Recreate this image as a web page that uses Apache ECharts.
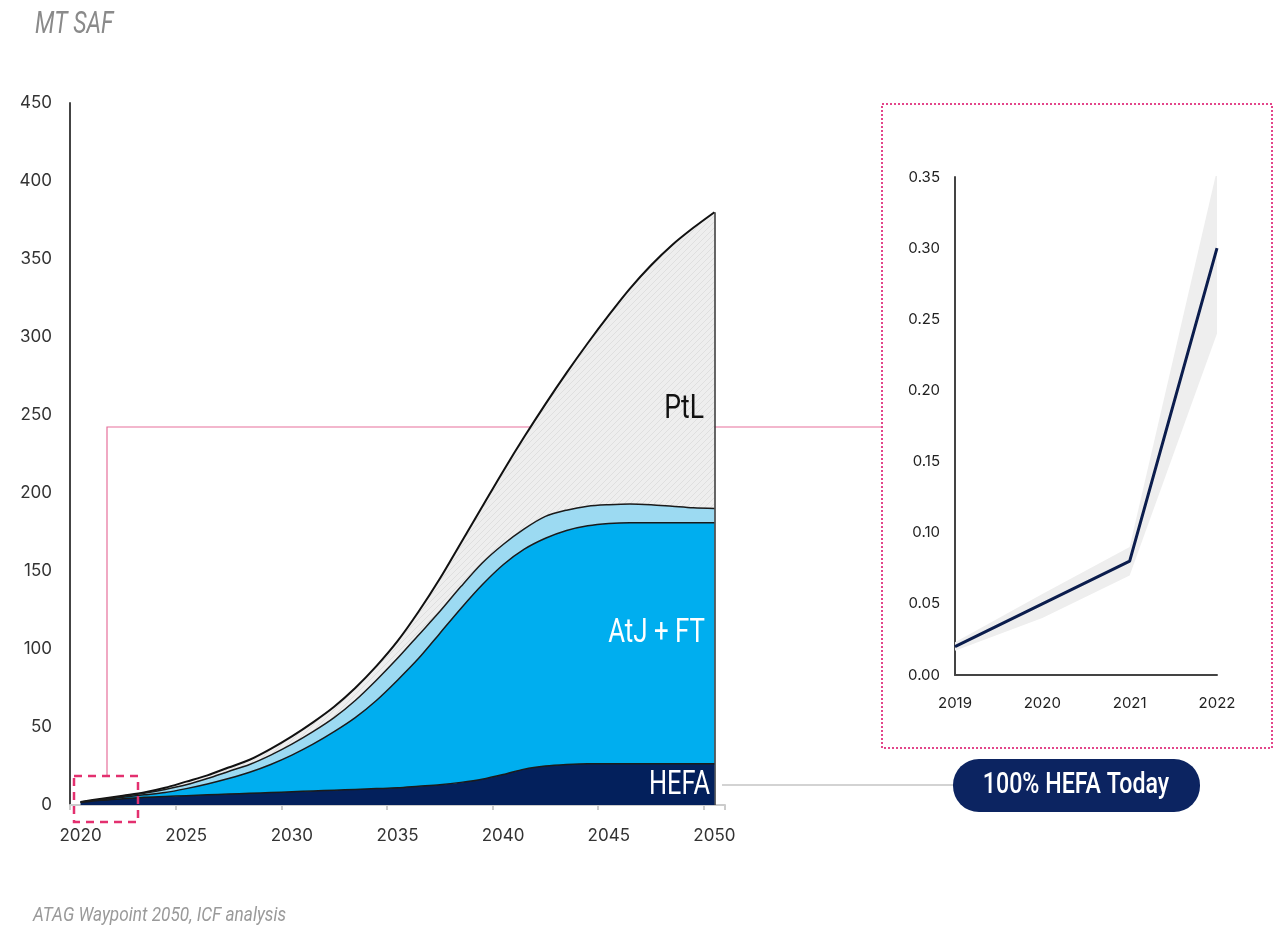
<!DOCTYPE html>
<html><head><meta charset="utf-8">
<script src="https://cdn.jsdelivr.net/npm/echarts@6/dist/echarts.min.js"></script>
<style>html,body{margin:0;padding:0;background:#fff}#c{width:1279px;height:929px}</style>
</head><body><div id="c"></div>
<script>
// ---- Data ----
const years = ['2020','2021','2022','2023','2024','2025','2026','2027','2028','2029','2030','2031','2032','2033','2034','2035','2036','2037','2038','2039','2040','2041','2042','2043','2044','2045','2046','2047','2048','2049','2050'];
const hefa  = [1.6,3,4,5,5.5,6,6.5,7,7.5,8,8.5,9,9.5,10,10.5,11,12,13,14.5,16.5,19.5,23,25,26,26.5,26.5,26.5,26.5,26.5,26.5,26.5];
const atjFt = [0.2,0.4,1,1.5,2.5,4.5,7,10,13.5,18,23.5,30,37.5,46,56.5,69,82,97,111.5,124.5,134.5,141,146,150,152.5,154,154.5,154.5,154.5,154.5,154.5];
const other = [0.1,0.3,0.5,1,2,2.5,3.5,4.5,5,6,7,8,9,11,13,14,15,14,14,14,13,13,14,13,12.5,12,12,11.5,10.5,9.5,9];
const ptl   = [0.1,0.3,0.5,0.5,1,2,2,2.5,3,4,5,6,7,8,9,11,15,21,28,36,47,59,72,88,104.5,121.5,138,153.5,167.5,179.5,190];

const insetYears = ['2019','2020','2021','2022'];
const hefaToday  = [0.02,0.05,0.08,0.30];
const bandLow    = [0.017,0.04,0.07,0.24];
const bandHigh   = [0.023,0.057,0.09,0.355];

// ---- Chart ----
const chart = echarts.init(document.getElementById('c'), null, {renderer:'canvas'});

const pat = document.createElement('canvas');
pat.width = 6; pat.height = 6;
const pc = pat.getContext('2d');
pc.fillStyle = '#eeeeee'; pc.fillRect(0,0,6,6);
pc.strokeStyle = '#dadada'; pc.lineWidth = 0.8;
pc.beginPath(); pc.moveTo(0,6); pc.lineTo(6,0); pc.moveTo(-1,1); pc.lineTo(1,-1); pc.moveTo(5,7); pc.lineTo(7,5); pc.stroke();

const last = years.length - 1;
const totalLast = hefa[last] + atjFt[last] + other[last] + ptl[last];
const bandRange = bandHigh.map((v,i) => +(v - bandLow[i]).toFixed(4));

const outline = {color:'#1a1a1a', width:1.5};
function stackSeries(name, data, color, z) {
  return {
    name, type:'line', data, stack:'saf', smooth:0.3,
    symbol:'none', xAxisIndex:0, yAxisIndex:0, z,
    lineStyle: outline, areaStyle:{color, opacity:1}, silent:true
  };
}

const axisFont = {fontFamily:'Inter, Roboto, sans-serif', color:'#333'};

const option = {
  animation:false,
  backgroundColor:'#fff',
  grid:[
    {left:70, top:103, width:655, height:702},
    {left:955, top:177, width:262, height:498}
  ],
  xAxis:[
    {type:'category', gridIndex:0, data:years, boundaryGap:true,
     axisLine:{show:true, lineStyle:{color:'#cccccc', width:2}},
     axisTick:{show:true, interval:4, length:5, lineStyle:{color:'#cccccc', width:2}},
     axisLabel:Object.assign({interval:4, fontSize:17, margin:22}, axisFont),
     splitLine:{show:false}},
    {type:'category', gridIndex:1, data:insetYears, boundaryGap:false,
     axisLine:{show:true, lineStyle:{color:'#444', width:2}},
     axisTick:{show:false},
     axisLabel:{fontSize:15, margin:21, color:'#222', fontFamily:'Inter, Roboto, sans-serif'},
     splitLine:{show:false}}
  ],
  yAxis:[
    {type:'value', gridIndex:0, min:0, max:450, interval:50,
     axisLine:{show:true, lineStyle:{color:'#444', width:2}},
     axisTick:{show:false}, splitLine:{show:false},
     axisLabel:Object.assign({fontSize:17, margin:18}, axisFont)},
    {type:'value', gridIndex:1, min:0, max:0.35, interval:0.05,
     axisLine:{show:true, lineStyle:{color:'#444', width:2}},
     axisTick:{show:false}, splitLine:{show:false},
     axisLabel:{fontSize:15, margin:15, color:'#222', fontFamily:'Inter, Roboto, sans-serif',
       formatter:v => v.toFixed(2)}}
  ],
  series:[
    stackSeries('HEFA', hefa, '#03205c', 5),
    stackSeries('AtJ + FT', atjFt, '#00aeef', 4),
    stackSeries('Other', other, '#9cdaf2', 3),
    Object.assign(stackSeries('PtL', ptl, {image:pat, repeat:'repeat'}, 2), {
      lineStyle:{color:'#111', width:2},
      markLine:{silent:true, symbol:'none', animation:false, label:{show:false},
        lineStyle:{color:'#333', width:1.5, type:'solid'},
        data:[[{coord:[years[last], 0]}, {coord:[years[last], totalLast]}]]}
    }),
    {name:'low', type:'line', xAxisIndex:1, yAxisIndex:1, data:bandLow, stack:'band',
     symbol:'none', lineStyle:{opacity:0}, silent:true},
    {name:'range', type:'line', xAxisIndex:1, yAxisIndex:1, data:bandRange, stack:'band',
     symbol:'none', lineStyle:{opacity:0}, areaStyle:{color:'#eeeeee', opacity:1}, silent:true},
    {name:'HEFA today', type:'line', xAxisIndex:1, yAxisIndex:1, data:hefaToday,
     symbol:'none', lineStyle:{color:'#0b1d4d', width:3}, silent:true, z:5}
  ],
  graphic:[
    {type:'polyline', z:0, shape:{points:[[107,776],[107,427],[882,427]]},
     style:{stroke:'#e7709c', lineWidth:1.2, fill:null}},
    {type:'rect', z:50, shape:{x:74, y:776, width:64, height:46},
     style:{stroke:'#e3306f', lineWidth:2.5, lineDash:[8,6], fill:null}},
    {type:'rect', z:50, shape:{x:882, y:104, width:390, height:644},
     style:{stroke:'#e3468a', lineWidth:2, lineDash:[2,2], fill:null}},
    {type:'line', z:0, shape:{x1:722, y1:785, x2:955, y2:785},
     style:{stroke:'#c4c4c4', lineWidth:1.5}},
    {type:'rect', z:50, shape:{x:953, y:759, width:247, height:53, r:26},
     style:{fill:'#0c2461'}},
    {type:'text', z:51, x:1076, y:786, scaleX:0.8,
     style:{text:'100% HEFA Today', fill:'#fff', font:'500 29px Roboto, sans-serif', textAlign:'center', textVerticalAlign:'middle'}},
    {type:'text', z:60, x:704, y:409, scaleX:0.78,
     style:{text:'PtL', fill:'#111', font:'34px Roboto, sans-serif', textAlign:'right', textVerticalAlign:'middle'}},
    {type:'text', z:60, x:705, y:633, scaleX:0.76,
     style:{text:'AtJ + FT', fill:'#fff', font:'34px Roboto, sans-serif', textAlign:'right', textVerticalAlign:'middle'}},
    {type:'text', z:60, x:710, y:786, scaleX:0.77,
     style:{text:'HEFA', fill:'#fff', font:'33px Roboto, sans-serif', textAlign:'right', textVerticalAlign:'middle'}},
    {type:'text', z:60, x:35, y:25, scaleX:0.72,
     style:{text:'MT SAF', fill:'#8a8a8a', font:'italic 32px Roboto, sans-serif', textAlign:'left', textVerticalAlign:'middle'}},
    {type:'text', z:60, x:33, y:916, scaleX:0.86,
     style:{text:'ATAG Waypoint 2050, ICF analysis', fill:'#9a9a9a', font:'italic 20px Roboto, sans-serif', textAlign:'left', textVerticalAlign:'middle'}}
  ]
};
chart.setOption(option);
</script>
</body></html>
